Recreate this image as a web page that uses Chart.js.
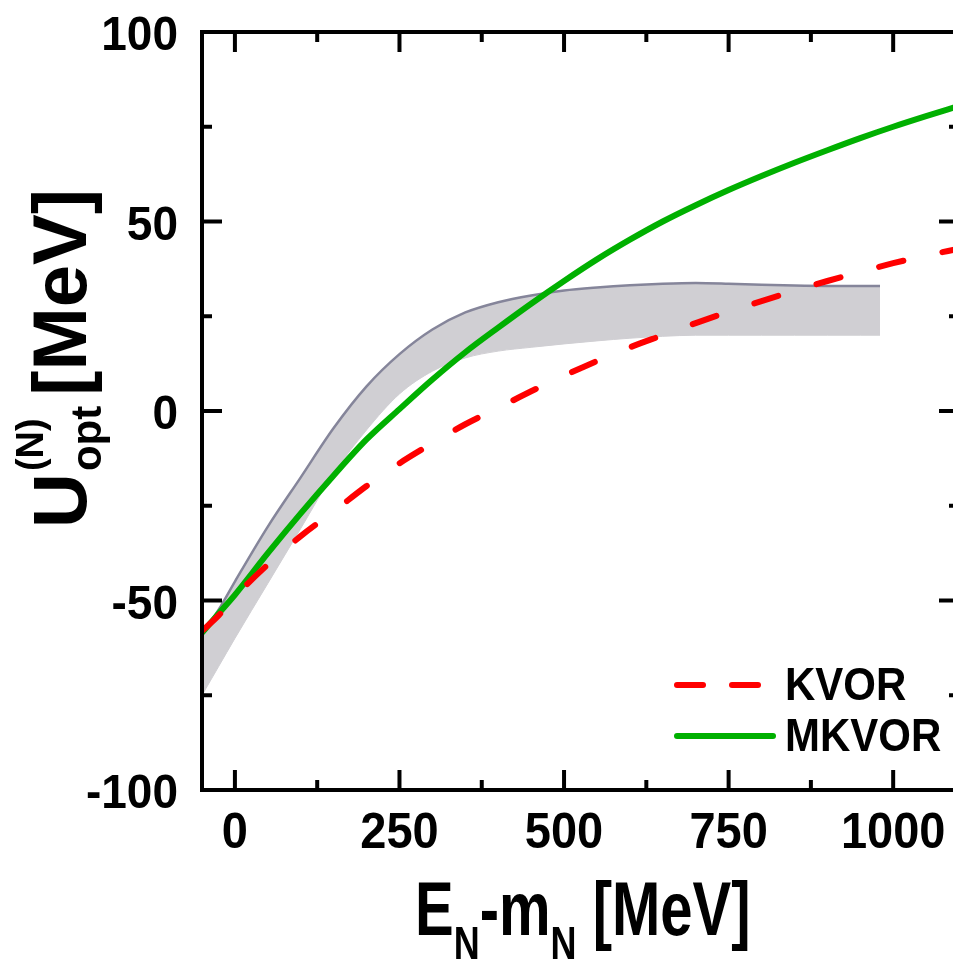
<!DOCTYPE html>
<html>
<head>
<meta charset="utf-8">
<script src="https://cdn.jsdelivr.net/npm/chart.js@4.4.1/dist/chart.umd.min.js"></script>
<style>
  html, body { margin: 0; padding: 0; background: #fff; overflow: hidden; }
  canvas { display: block; }
</style>
</head>
<body>
<canvas id="myChart" width="965" height="971"></canvas>
<script>
// optical potential vs kinetic energy
const energy = [-50, -25, 0, 50, 100, 150, 200, 250, 300, 350, 400, 450, 500, 550, 600, 650, 700, 750, 800, 850, 900, 950, 1000, 1050, 1100];
const kvor   = [-58, -54, -49, -40.5, -33, -26.5, -19.8, -13.8, -8.5, -3.5, 0.8, 5.2, 9.3, 13.2, 16.8, 20, 23.2, 26.2, 29, 31.7, 34.3, 36.7, 39, 41, 42.8];
const mkvor  = [-58.5, -53.5, -48.5, -37.5, -27, -17, -7.5, 0.5, 8.3, 15.5, 22, 28.3, 34.3, 40, 45.2, 50, 54.3, 58.3, 62, 65.5, 68.8, 72, 75, 77.8, 80.5];

// empirical band
const bandEnergy = [-50, -25, 0, 50, 100, 150, 200, 250, 300, 350, 400, 450, 500, 550, 600, 650, 700, 750, 800, 850, 900, 950, 980];
const bandUpper  = [-59, -52.5, -45, -30.5, -17.5, -4.5, 6.5, 15, 21.5, 26, 28.7, 30.5, 31.8, 32.6, 33.2, 33.6, 33.8, 33.6, 33.3, 33.1, 33, 33, 33];
const bandLower  = [-75, -67.5, -60, -45.5, -31, -16.5, -5, 4.5, 10.5, 14, 15.8, 16.8, 17.7, 18.5, 19.2, 19.7, 20, 20, 20, 20, 20, 20, 20];

const xTicks = [0, 250, 500, 750, 1000];
const xMinor = [125, 375, 625, 875];
const yTicks = [-100, -50, 0, 50, 100];
const yMinor = [-75, -25, 25, 75];
const xLabels = ['0', '250', '500', '750', '1000'];
const yLabels = ['-100', '-50', '0', '50', '100'];

const FONT = '"Liberation Sans", Arial, sans-serif';

const pts = (xs, ys) => xs.map((v, i) => ({x: v, y: ys[i]}));

// text with a little vertical stretch
function drawText(ctx, str, x, y, size, sy, align) {
  ctx.save();
  ctx.translate(x, y);
  ctx.scale(1, sy);
  ctx.font = 'bold ' + size + 'px ' + FONT;
  ctx.textAlign = align || 'left';
  ctx.textBaseline = 'alphabetic';
  ctx.fillText(str, 0, 0);
  const w = ctx.measureText(str).width;
  ctx.restore();
  return w;
}

const frame = {
  id: 'frame',
  afterDatasetsDraw(chart) {
    const {ctx, chartArea: a, scales: {x, y}} = chart;
    ctx.save();
    ctx.strokeStyle = '#000';
    ctx.fillStyle = '#000';
    ctx.lineWidth = 4;
    ctx.strokeRect(a.left, a.top, a.right - a.left, a.bottom - a.top);
    const line = (x1, y1, x2, y2) => { ctx.beginPath(); ctx.moveTo(x1, y1); ctx.lineTo(x2, y2); ctx.stroke(); };
    xTicks.forEach(v => { const p = x.getPixelForValue(v); line(p, a.bottom, p, a.bottom - 20); line(p, a.top, p, a.top + 20); });
    xMinor.forEach(v => { const p = x.getPixelForValue(v); line(p, a.bottom, p, a.bottom - 10); line(p, a.top, p, a.top + 10); });
    yTicks.forEach(v => { const p = y.getPixelForValue(v); line(a.left, p, a.left + 20, p); line(a.right, p, a.right - 20, p); });
    yMinor.forEach(v => { const p = y.getPixelForValue(v); line(a.left, p, a.left + 10, p); line(a.right, p, a.right - 10, p); });

    // tick labels
    xTicks.forEach((v, i) => drawText(ctx, xLabels[i], x.getPixelForValue(v), 848, 47, 1.05, 'center'));
    yTicks.forEach((v, i) => drawText(ctx, yLabels[i], 178, y.getPixelForValue(v) + 18, 46, 1.05, 'right'));

    // x title: E_N-m_N [MeV]
    let cx = 415, base = 935;
    cx += drawText(ctx, 'E', cx, base, 58, 1.32);
    cx += drawText(ctx, 'N', cx, base + 24, 36, 1.3);
    cx += drawText(ctx, '-m', cx, base, 58, 1.32);
    cx += drawText(ctx, 'N', cx, base + 24, 36, 1.3);
    drawText(ctx, ' [MeV]', cx, base, 58, 1.32);

    // y title: U_opt^(N) [MeV], rotated
    ctx.save();
    ctx.translate(86, 528);
    ctx.rotate(-Math.PI / 2);
    let ty = 0;
    ty += drawText(ctx, 'U', ty, 0, 76, 1.0);
    const wSub = drawText(ctx, 'opt', ty + 2, 15, 42, 1.0);
    const wSup = drawText(ctx, '(N)', ty + 2, -43, 38, 1.0);
    ty += Math.max(wSub, wSup) + 4;
    drawText(ctx, '[MeV]', ty + 8, 0, 76, 1.0);
    ctx.restore();

    // legend
    ctx.lineCap = 'round';
    ctx.lineWidth = 6;
    ctx.strokeStyle = '#ff0000';
    line(677, 685, 703, 685);
    line(732, 685, 758, 685);
    ctx.strokeStyle = '#00b000';
    line(677, 736, 773, 736);
    ctx.fillStyle = '#000';
    drawText(ctx, 'KVOR', 785, 700, 42, 1.12);
    drawText(ctx, 'MKVOR', 785, 751, 42, 1.12);
    ctx.restore();
  }
};

new Chart(document.getElementById('myChart'), {
  type: 'line',
  data: {
    datasets: [
      {
        label: 'KVOR',
        data: pts(energy, kvor),
        borderColor: '#ff0000',
        borderWidth: 6,
        borderDash: [25, 40],
        borderCapStyle: 'round',
        pointRadius: 0,
        cubicInterpolationMode: 'monotone',
        fill: false
      },
      {
        label: 'MKVOR',
        data: pts(energy, mkvor),
        borderColor: '#00b000',
        borderWidth: 6,
        pointRadius: 0,
        cubicInterpolationMode: 'monotone',
        fill: false
      },
      {
        label: 'band upper',
        data: pts(bandEnergy, bandUpper),
        borderColor: '#85859a',
        borderWidth: 2.5,
        backgroundColor: 'rgb(208,207,211)',
        pointRadius: 0,
        cubicInterpolationMode: 'monotone',
        fill: '+1'
      },
      {
        label: 'band lower',
        data: pts(bandEnergy, bandLower),
        borderColor: 'rgb(208,207,211)',
        borderWidth: 1,
        pointRadius: 0,
        cubicInterpolationMode: 'monotone',
        fill: false
      }
    ]
  },
  options: {
    responsive: false,
    animation: false,
    events: [],
    layout: { padding: { top: 32, right: 6, left: 0, bottom: 0 } },
    plugins: { legend: { display: false }, tooltip: { enabled: false } },
    scales: {
      x: {
        type: 'linear',
        min: -50,
        max: 1100,
        grid: { display: false },
        border: { display: false },
        ticks: { display: false },
        afterFit: s => { s.height = 181; }
      },
      y: {
        min: -100,
        max: 100,
        grid: { display: false },
        border: { display: false },
        ticks: { display: false },
        afterFit: s => { s.width = 202; }
      }
    }
  },
  plugins: [frame]
});
</script>
</body>
</html>
